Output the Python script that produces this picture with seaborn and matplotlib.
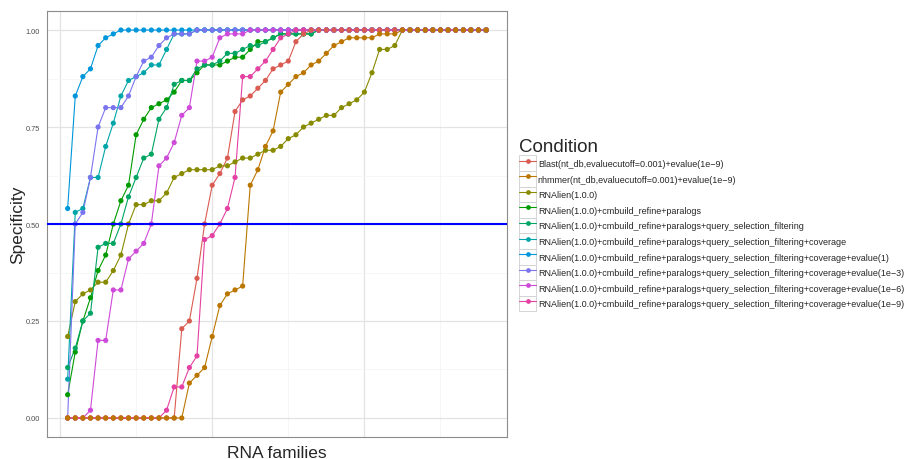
import numpy as np
import pandas as pd
import matplotlib
matplotlib.use("Agg")
import matplotlib.pyplot as plt
import seaborn as sns
from matplotlib.lines import Line2D
from matplotlib.legend_handler import HandlerLine2D
from matplotlib.patches import Rectangle

# ---------------- data ----------------
conditions = [
    "Blast(nt_db,evaluecutoff=0.001)+evalue(1e\u22129)",
    "nhmmer(nt_db,evaluecutoff=0.001)+evalue(1e\u22129)",
    "RNAlien(1.0.0)",
    "RNAlien(1.0.0)+cmbuild_refine+paralogs",
    "RNAlien(1.0.0)+cmbuild_refine+paralogs+query_selection_filtering",
    "RNAlien(1.0.0)+cmbuild_refine+paralogs+query_selection_filtering+coverage",
    "RNAlien(1.0.0)+cmbuild_refine+paralogs+query_selection_filtering+coverage+evalue(1)",
    "RNAlien(1.0.0)+cmbuild_refine+paralogs+query_selection_filtering+coverage+evalue(1e\u22123)",
    "RNAlien(1.0.0)+cmbuild_refine+paralogs+query_selection_filtering+coverage+evalue(1e\u22126)",
    "RNAlien(1.0.0)+cmbuild_refine+paralogs+query_selection_filtering+coverage+evalue(1e\u22129)",
]

blast = [0, 0, 0, 0, 0, 0, 0, 0, 0, 0, 0, 0, 0, 0, 0,
         0.23, 0.25, 0.36, 0.50, 0.60, 0.63, 0.67, 0.79, 0.82, 0.83,
         0.85, 0.87, 0.90, 0.91, 0.92, 0.97, 0.99,
         1, 1, 1, 1, 1, 1, 1, 1, 1, 1, 1, 1, 1, 1, 1, 1, 1, 1, 1, 1, 1, 1, 1, 1]
nhmmer = [0, 0, 0, 0, 0, 0, 0, 0, 0, 0, 0, 0, 0, 0, 0, 0,
          0.09, 0.11, 0.13, 0.21, 0.29, 0.32, 0.33, 0.34,
          0.60, 0.64, 0.70, 0.74, 0.84, 0.86, 0.88, 0.89, 0.91, 0.92,
          0.94, 0.96, 0.97, 0.98, 0.98, 0.98, 0.98, 0.99, 0.99, 0.99,
          1, 1, 1, 1, 1, 1, 1, 1, 1, 1, 1, 1]
rnalien = [0.21, 0.30, 0.32, 0.33, 0.35, 0.35, 0.38, 0.42, 0.50, 0.55,
           0.55, 0.56, 0.56, 0.58, 0.62, 0.63, 0.64, 0.64, 0.64, 0.64,
           0.65, 0.65, 0.66, 0.67, 0.67, 0.68, 0.69, 0.69, 0.70, 0.72,
           0.73, 0.75, 0.76, 0.77, 0.78, 0.78, 0.80, 0.81, 0.82, 0.84,
           0.89, 0.95, 0.95, 0.96, 1, 1, 1, 1, 1, 1, 1, 1, 1, 1, 1, 1]
paralogs = [0.06, 0.17, 0.25, 0.31, 0.38, 0.42, 0.50, 0.56, 0.60, 0.73,
            0.77, 0.80, 0.81, 0.82, 0.84, 0.87, 0.87, 0.89, 0.91, 0.91,
            0.91, 0.92, 0.93, 0.93, 0.95, 0.97, 0.97, 0.98, 0.99, 0.99,
            0.99, 0.99, 0.99, 1, 1, 1, 1, 1, 1, 1, 1, 1, 1, 1, 1, 1,
            1, 1, 1, 1, 1, 1, 1, 1, 1, 1]
qsf = [0.13, 0.18, 0.25, 0.27, 0.44, 0.45, 0.45, 0.50, 0.57, 0.62,
       0.67, 0.68, 0.77, 0.80, 0.86, 0.87, 0.87, 0.90, 0.91, 0.91,
       0.92, 0.94, 0.94, 0.95, 0.96, 0.96, 0.97, 0.98, 0.99, 0.99,
       0.99, 0.99, 0.99, 1, 1, 1, 1, 1, 1, 1, 1, 1, 1, 1, 1, 1,
       1, 1, 1, 1, 1, 1, 1, 1, 1, 1]
coverage = [0.10, 0.53, 0.54, 0.62, 0.62, 0.70, 0.76, 0.83, 0.87, 0.88,
            0.89, 0.91, 0.91, 0.95, 0.99, 0.99, 0.99, 1, 1, 1,
            1, 1, 1, 1, 1, 1, 1, 1, 1, 1, 1, 1, 1, 1, 1, 1, 1, 1,
            1, 1, 1, 1, 1, 1, 1, 1, 1, 1, 1, 1, 1, 1, 1, 1, 1, 1]
ev1 = [0.54, 0.83, 0.88, 0.90, 0.96, 0.98, 0.99, 1, 1, 1,
       1, 1, 1, 1, 1, 1, 1, 1, 1, 1, 1, 1, 1, 1, 1, 1, 1, 1,
       1, 1, 1, 1, 1, 1, 1, 1, 1, 1, 1, 1, 1, 1, 1, 1, 1, 1,
       1, 1, 1, 1, 1, 1, 1, 1, 1, 1]
ev3 = [0, 0.50, 0.53, 0.62, 0.75, 0.80, 0.80, 0.80, 0.83, 0.88,
       0.92, 0.93, 0.96, 0.98, 0.99, 0.99, 0.99, 1, 1, 1,
       1, 1, 1, 1, 1, 1, 1, 1, 1, 1, 1, 1, 1, 1, 1, 1, 1, 1,
       1, 1, 1, 1, 1, 1, 1, 1, 1, 1, 1, 1, 1, 1, 1, 1, 1, 1]
ev6 = [0, 0, 0, 0.02, 0.20, 0.20, 0.33, 0.33, 0.41, 0.43,
       0.45, 0.50, 0.65, 0.67, 0.71, 0.78, 0.80, 0.92, 0.92, 0.93,
       0.98, 0.99, 0.99, 0.99, 1, 1, 1, 1, 1, 1, 1, 1, 1, 1,
       1, 1, 1, 1, 1, 1, 1, 1, 1, 1, 1, 1, 1, 1, 1, 1, 1, 1, 1, 1, 1, 1]
ev9 = [0, 0, 0, 0, 0, 0, 0, 0, 0, 0, 0, 0, 0,
       0.02, 0.08, 0.08, 0.13, 0.16, 0.46, 0.47, 0.50, 0.54, 0.62,
       0.88, 0.88, 0.90, 0.92, 0.95, 0.98, 0.99,
       1, 1, 1, 1, 1, 1, 1, 1, 1, 1, 1, 1, 1, 1, 1, 1, 1, 1, 1, 1,
       1, 1, 1, 1, 1, 1]

series = [blast, nhmmer, rnalien, paralogs, qsf, coverage, ev1, ev3, ev6, ev9]

# order of rows in the data (points later in the table are drawn on top)
row_order = [2, 3, 4, 5, 6, 7, 8, 9, 0, 1]


# ---------------- colours (ggplot-like hue palette, darker) ----------------
def hcl_hex(h, c=100.0, l=55.0):
    hr = np.deg2rad(h)
    u, v = c * np.cos(hr), c * np.sin(hr)
    Xn, Yn, Zn = 0.95047, 1.0, 1.08883
    den = Xn + 15 * Yn + 3 * Zn
    un, vn = 4 * Xn / den, 9 * Yn / den
    Y = Yn * ((l + 16) / 116) ** 3
    up, vp = u / (13 * l) + un, v / (13 * l) + vn
    X = Y * 9 * up / (4 * vp)
    Z = Y * (12 - 3 * up - 20 * vp) / (4 * vp)
    rgb = np.array([3.2406 * X - 1.5372 * Y - 0.4986 * Z,
                    -0.9689 * X + 1.8758 * Y + 0.0415 * Z,
                    0.0557 * X - 0.2040 * Y + 1.0570 * Z])
    rgb = np.clip(rgb, 0, 1)
    rgb = np.where(rgb <= 0.0031308, 12.92 * rgb, 1.055 * rgb ** (1 / 2.4) - 0.055)
    rgb = np.clip(rgb, 0, 1)
    return "#%02x%02x%02x" % tuple(int(round(x * 255)) for x in rgb)


palette = [hcl_hex(15 + 36 * k) for k in range(10)]

records = []
for k in row_order:
    for i, val in enumerate(series[k], start=1):
        records.append((conditions[k], i, val))
df = pd.DataFrame(records, columns=["Condition", "Family", "Specificity"])

# ---------------- style ----------------
sns.set_style("white")
plt.rcParams["font.family"] = ["Liberation Sans", "DejaVu Sans"]

fig = plt.figure(figsize=(9.09, 4.6), dpi=100)
ax = fig.add_axes([0.0514, 0.047, 0.5064, 0.9277])

ax.set_xlim(-1.75, 58.75)
ax.set_ylim(-0.05, 1.05)
ax.set_xticks([0, 20, 40])
ax.set_xticks([10, 30, 50], minor=True)
ax.set_yticks([0, 0.25, 0.5, 0.75, 1.0])
ax.set_yticks([0.125, 0.375, 0.625, 0.875], minor=True)
ax.grid(which="major", color="#e3e3e3", lw=0.9)
ax.grid(which="minor", color="#f5f5f5", lw=0.6)
ax.set_axisbelow(True)

sns.lineplot(data=df, x="Family", y="Specificity", hue="Condition",
             hue_order=conditions, palette=palette, estimator=None,
             sort=False, linewidth=0.8, legend=False, ax=ax)
sns.scatterplot(data=df, x="Family", y="Specificity", hue="Condition",
                hue_order=conditions, palette=palette, s=14, linewidth=0,
                legend=False, ax=ax, zorder=3)

ax.axhline(0.5, color="#0000ff", lw=1.5, zorder=4)

for sp in ax.spines.values():
    sp.set_color("#8c8c8c")
    sp.set_linewidth(0.8)

ax.tick_params(axis="both", which="major", length=3, width=0.6,
               color="#333333", labelsize=5.3, labelcolor="#4d4d4d", pad=2)
ax.tick_params(axis="both", which="minor", length=0)
ax.set_xticklabels([])
ax.set_yticklabels(["0.00", "0.25", "0.50", "0.75", "1.00"])
ax.set_xlabel("RNA families", fontsize=12.5, labelpad=0.5)
ax.set_ylabel("Specificity", fontsize=12.5, labelpad=0)


# ---------------- legend ----------------
class BoxedHandler(HandlerLine2D):
    def create_artists(self, legend, orig_handle, xdescent, ydescent,
                       width, height, fontsize, trans):
        arts = super().create_artists(legend, orig_handle, xdescent, ydescent,
                                      width, height, fontsize, trans)
        rect = Rectangle((-xdescent, -ydescent), width, height, facecolor="white",
                         edgecolor="#cfcfcf", lw=0.6, transform=trans)
        return [rect] + list(arts)


handles = [Line2D([0], [0], color=c, lw=0.8, marker="o", ms=3.4, mew=0)
           for c in palette]
leg = fig.legend(handles, conditions, loc="upper left",
                 bbox_to_anchor=(0.571, 0.697), frameon=False,
                 title="Condition", title_fontsize=13.5, fontsize=6.5,
                 handlelength=1.88, handleheight=2.28, labelspacing=0,
                 handletextpad=0.2, borderaxespad=0, borderpad=0,
                 handler_map={Line2D: BoxedHandler()})
leg._legend_box.align = "left"

fig.savefig("out.png", dpi=100)
